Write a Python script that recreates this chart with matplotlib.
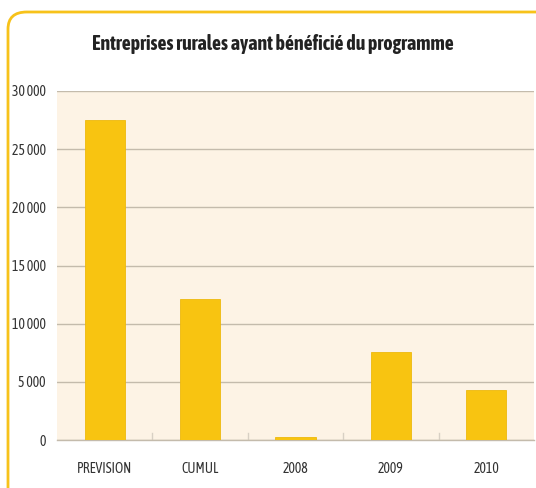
import matplotlib
matplotlib.use("Agg")
import matplotlib.pyplot as plt
from matplotlib.patches import FancyBboxPatch

categories = ["PREVISION", "CUMUL", "2008", "2009", "2010"]
values = [27500, 12100, 250, 7600, 4300]
yticks = [0, 5000, 10000, 15000, 20000, 25000, 30000]
ytick_labels = ["0", "5 000", "10 000", "15 000", "20 000", "25 000", "30 000"]
title = "Entreprises rurales ayant bénéficié du programme"

fam = ["Asap Condensed", "Liberation Sans", "DejaVu Sans"]

fig = plt.figure(figsize=(5.36, 4.88), dpi=100)
fig.patch.set_facecolor("white")

# yellow rounded frame
frame = FancyBboxPatch((8 / 536, -0.2), 1.2, 1 - 12 / 488 + 0.2,
                       boxstyle="round,pad=0,rounding_size=0.035",
                       transform=fig.transFigure, facecolor="none",
                       edgecolor="#F7C21A", linewidth=2.0, zorder=0)
fig.patches.append(frame)

ax = fig.add_axes([57 / 536, 1 - 440 / 488, (534 - 57) / 536, (440 - 91) / 488])
ax.set_facecolor("#FDF3E5")
x = list(range(len(categories)))
ax.bar(x, values, width=0.42, color="#F8C411", edgecolor="#EDB90E", linewidth=0.6, zorder=3)
ax.set_xlim(-0.5, len(categories) - 0.5)
ax.set_ylim(0, 30000)
ax.set_yticks(yticks)
ax.set_yticklabels(ytick_labels, family=fam, fontsize=10, color="#333333")
ax.set_xticks(x)
ax.set_xticklabels(categories, family=fam, fontsize=10, color="#333333")
ax.tick_params(axis="y", length=0, pad=8)
ax.tick_params(axis="x", length=0, pad=16)
ax.grid(axis="y", color="#C4BBAC", linewidth=1.0, zorder=1)
# small boundary ticks at the bottom
for b in [0.5, 1.5, 2.5, 3.5]:
    ax.plot([b, b], [0, 600], color="#D8D0C4", linewidth=1.0, zorder=2)
for s in ["top", "right", "left"]:
    ax.spines[s].set_visible(False)
ax.spines["bottom"].set_color("#C4BBAC")
ax.spines["bottom"].set_linewidth(1.0)

fig.text(273 / 536, 1 - 44 / 488, title, ha="center", va="center",
         family=fam, fontsize=14.3, fontweight="bold", color="#222222")

fig.savefig("out.png", dpi=100, facecolor="white")
